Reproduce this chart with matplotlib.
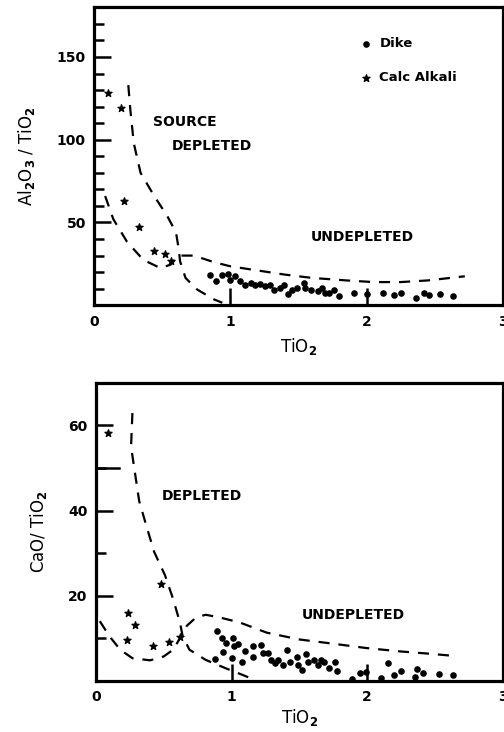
import matplotlib
matplotlib.use('Agg')
import matplotlib.pyplot as plt

plt.rcParams['font.family'] = ['DejaVu Sans']
plt.rcParams['font.weight'] = 'bold'
plt.rcParams['mathtext.fontset'] = 'dejavusans'
plt.rcParams['mathtext.default'] = 'bf'

# --- panel 1: Al2O3/TiO2 vs TiO2 ---
dike_ti_a = [0.85, 0.89, 0.94, 0.98, 1.00, 1.03, 1.07, 1.11, 1.15, 1.18, 1.22, 1.25,
             1.29, 1.32, 1.36, 1.39, 1.42, 1.45, 1.49, 1.54, 1.55, 1.59, 1.64, 1.67,
             1.69, 1.72, 1.76, 1.80, 1.91, 2.00, 2.12, 2.20, 2.25, 2.36, 2.42, 2.46,
             2.54, 2.63]
dike_al = [18.5, 14.5, 18.5, 19, 15.5, 17.5, 14.5, 12.5, 13.5, 12.5, 13, 11.5,
           12.5, 9.5, 10.5, 12, 6.5, 9.5, 10.5, 13.5, 10.5, 9.5, 8.5, 10.5,
           7.5, 7.5, 9.5, 5.5, 7.5, 7, 7.5, 6, 7.5, 4.5, 7.5, 6,
           6.5, 5.5]
calc_ti_a = [0.10, 0.20, 0.22, 0.33, 0.44, 0.52, 0.56]
calc_al = [128, 119, 63, 47, 33, 31, 27]

depl_ti_a = [0.25, 0.265, 0.29, 0.34, 0.44, 0.535, 0.60, 0.62, 0.63, 0.67, 0.755, 0.88, 0.94]
depl_al = [133, 118, 98, 80, 66, 54, 44, 34, 26.5, 16.5, 9.5, 3.5, 1.5]
undep_ti_a = [0.08, 0.14, 0.24, 0.36, 0.485, 0.56, 0.62, 0.65, 0.73, 0.88, 1.0, 1.2,
              1.4, 1.6, 1.85, 2.05, 2.25, 2.45, 2.72]
undep_al = [66, 52, 38.4, 27.4, 22.5, 24.5, 30, 30, 30, 26, 23.5, 21,
            18.5, 16.5, 15, 14, 14, 15, 17.5]

# --- panel 2: CaO/TiO2 vs TiO2 ---
dike_ti_b = [0.89, 0.93, 0.94, 0.96, 1.00, 1.01, 1.02, 1.05, 1.10, 1.08, 1.16, 1.16,
             1.22, 1.23, 1.27, 1.29, 1.32, 1.34, 1.38, 1.41, 1.43, 1.48, 1.49, 1.52,
             1.55, 1.56, 1.61, 1.64, 1.66, 1.68, 1.72, 1.76, 1.78, 1.89, 1.95, 1.99,
             2.10, 2.15, 2.20, 2.25, 2.35, 2.37, 2.41, 2.53, 2.63, 0.88]
dike_ca = [11.7, 10.1, 6.7, 8.9, 5.3, 10.1, 8.1, 8.7, 6.9, 4.5, 8.1, 5.7,
           8.5, 6.5, 6.5, 4.9, 4.1, 4.9, 3.7, 7.3, 4.5, 5.5, 3.7, 2.5,
           6.3, 4.5, 4.9, 3.7, 4.9, 4.3, 2.9, 4.3, 2.3, 0.4, 1.8, 2.0,
           0.6, 4.1, 1.4, 2.2, 0.8, 2.8, 1.8, 1.6, 1.4, 5.0]
calc_ti_b = [0.09, 0.24, 0.29, 0.23, 0.42, 0.48, 0.54, 0.62]
calc_ca = [58.1, 16.0, 13.0, 9.5, 8.1, 22.8, 9.2, 10.3]

depl_ti_b = [0.27, 0.26, 0.29, 0.32, 0.37, 0.43, 0.51, 0.57, 0.62, 0.64, 0.69, 0.81,
             0.96, 1.08, 1.17]
depl_ca = [62.9, 55, 48.6, 42.2, 36.7, 30.3, 24.8, 19.2, 13.7, 10.5, 7.3, 4.9,
           2.9, 1.4, 0.2]
undep_ti_b = [0.03, 0.10, 0.18, 0.27, 0.40, 0.50, 0.57, 0.63, 0.67, 0.74, 0.81, 0.91,
              1.06, 1.26, 1.5, 1.75, 1.99, 2.24, 2.48, 2.65]
undep_ca = [14.0, 10.5, 7.3, 5.3, 4.8, 5.7, 7.3, 10.5, 12.9, 14.9, 15.5, 14.9,
            13.7, 11.3, 9.7, 8.7, 7.7, 6.9, 6.3, 5.8]

dash = (0, (5, 4))

fig = plt.figure(figsize=(5.04, 7.32), dpi=100)
ax1 = fig.add_axes([0.187, 0.583, 0.811, 0.407])
ax2 = fig.add_axes([0.190, 0.070, 0.808, 0.407])


def style_axes(ax, ymax, major, minor):
    ax.set_xlim(0, 3)
    ax.set_ylim(0, ymax)
    ax.set_xticks([0, 1, 2, 3])
    ax.set_yticks(major)
    ax.set_yticks(minor, minor=True)
    for s in ax.spines.values():
        s.set_linewidth(2.3)
    ax.tick_params(axis='both', which='both', direction='in', top=False, right=False,
                   width=1.8, labelsize=10)
    ax.tick_params(axis='y', which='major', length=12, pad=6)
    ax.tick_params(axis='y', which='minor', length=7)
    ax.tick_params(axis='x', which='major', length=12, pad=7)


# panel 1
ax1.plot(depl_ti_a, depl_al, color='k', lw=1.6, ls=dash)
ax1.plot(undep_ti_a, undep_al, color='k', lw=1.6, ls=dash)
ax1.scatter(dike_ti_a, dike_al, s=14, color='k', marker='o', label='Dike', zorder=3)
ax1.scatter(calc_ti_a, calc_al, s=28, color='k', marker='*', label='Calc Alkali', zorder=3)
style_axes(ax1, 180, [50, 100, 150],
           [10, 20, 30, 40, 60, 70, 80, 90, 110, 120, 130, 140, 160, 170])
ax1.text(0.43, 111, 'SOURCE', fontsize=10, va='center')
ax1.text(0.57, 96, 'DEPLETED', fontsize=10, va='center')
ax1.text(1.59, 41, 'UNDEPLETED', fontsize=10, va='center')
ax1.set_xlabel('TiO$_2$', fontsize=12, labelpad=5)
ax1.set_ylabel('Al$_2$O$_3$ / TiO$_2$', fontsize=12, labelpad=14)
ax1.legend(loc='upper left', bbox_to_anchor=(0.62, 0.94), frameon=False,
           handlelength=1.0, handletextpad=0.5, labelspacing=1.6, fontsize=9.5)

# panel 2
ax2.plot(depl_ti_b, depl_ca, color='k', lw=1.6, ls=dash)
ax2.plot(undep_ti_b, undep_ca, color='k', lw=1.6, ls=dash)
ax2.scatter(dike_ti_b, dike_ca, s=14, color='k', marker='o', zorder=3)
ax2.scatter(calc_ti_b, calc_ca, s=28, color='k', marker='*', zorder=3)
style_axes(ax2, 70, [20, 40, 60], [10, 30, 50])
ax2.axhline(50, xmin=0, xmax=0.058, color='k', lw=1.8)
ax2.text(0.485, 43.3, 'DEPLETED', fontsize=10, va='center')
ax2.text(1.52, 15.5, 'UNDEPLETED', fontsize=10, va='center')
ax2.set_xlabel('TiO$_2$', fontsize=12, labelpad=2)
ax2.set_ylabel('CaO/ TiO$_2$', fontsize=12, labelpad=14)

fig.savefig('out.png', dpi=100)
